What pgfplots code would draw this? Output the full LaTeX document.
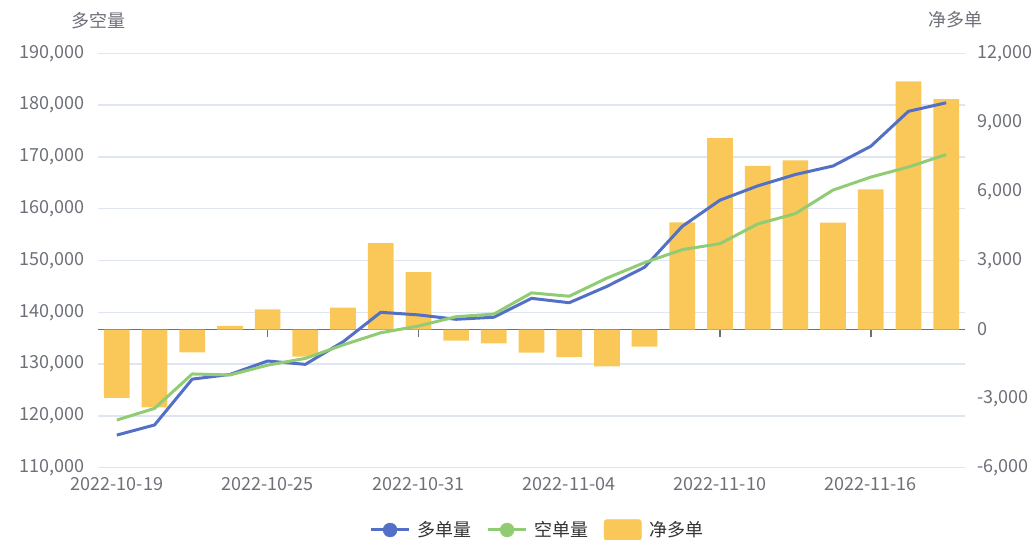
\documentclass[border=0pt]{standalone}
\usepackage{pgfplots}
\usepackage{pgfplotstable}
\pgfplotsset{compat=1.18}
\usepackage{fontspec}
\setmainfont{Noto Sans CJK SC}
\definecolor{cblue}{HTML}{5470C6}
\definecolor{cgreen}{HTML}{91CC75}
\definecolor{cyellow}{HTML}{FAC858}
\definecolor{cgrid}{HTML}{E0E6F1}
\definecolor{caxis}{HTML}{6E7079}
\definecolor{ctext}{HTML}{6E7079}
\definecolor{clegend}{HTML}{333333}

\pgfplotstableread{
i long short net
0 116300 119200 -2970
1 118250 121450 -3380
2 127100 128100 -990
3 128000 127900 160
4 130600 129800 880
5 129950 131100 -1180
6 134300 133700 950
7 140000 136050 3750
8 139500 137350 2490
9 138650 139150 -480
10 139050 139650 -600
11 142700 143750 -1000
12 141850 143100 -1200
13 145000 146600 -1600
14 148700 149600 -740
15 156600 152100 4660
16 161650 153250 8320
17 164400 157050 7110
18 166600 159050 7350
19 168250 163600 4640
20 172050 166100 6090
21 178800 168050 10780
22 180450 170450 10010
}\datatable

\begin{document}
\begin{tikzpicture}[x=1pt,y=1pt]
\path[use as bounding box] (0,0) rectangle (1035,539);
\pgfplotsset{
  base/.style={
    scale only axis, width=867pt, height=414.4pt,
    at={(98pt,71.3pt)}, anchor=south west,
    xmin=-0.5, xmax=22.5,
    scaled y ticks=false, scaled x ticks=false,
    tick label style={font=\fontsize{18}{21}\selectfont, text=ctext, inner sep=0pt},
  }
}
% axis 1: left scale, grid, labels
\begin{axis}[base,
  clip=false,
  ymin=110000, ymax=190000,
  ytick={110000,120000,130000,140000,150000,160000,170000,180000,190000},
  yticklabels={{110,000},{120,000},{130,000},{140,000},{150,000},{160,000},{170,000},{180,000},{190,000}},
  ymajorgrids, grid style={cgrid, line width=1.5pt},
  axis line style={draw=none},
  major tick length=0pt,
  xtick={0,4,8,12,16,20},
  xticklabels={2022-10-19,2022-10-25,2022-10-31,2022-11-04,2022-11-10,2022-11-16},
  xticklabel style={anchor=north, yshift=-10pt},
  yticklabel style={anchor=east, xshift=-13pt},
]
\addplot[draw=none] coordinates {(0,150000)};
\node[font=\fontsize{18}{21}\selectfont, text=ctext] at (axis description cs:0,1.08) {多空量};
\node[font=\fontsize{18}{21}\selectfont, text=ctext] at (axis description cs:0.9885,1.08) {净多单};
\end{axis}
% axis 2: bars, right scale
\begin{axis}[base,
  ymin=-6000, ymax=12000,
  axis y line*=right, axis x line*=middle,
  y axis line style={draw=none},
  x axis line style={caxis, line width=1.5pt},
  ytick={-6000,-3000,0,3000,6000,9000,12000},
  yticklabels={{-6,000},{-3,000},0,{3,000},{6,000},{9,000},{12,000}},
  yticklabel style={anchor=west, xshift=5pt},
  y tick style={draw=none},
  xtick={0,4,8,12,16,20}, xticklabels={},
  x tick style={caxis, line width=1.5pt},
  tick align=outside, major tick length=7.5pt,
]
\addplot[ybar, bar width=25.7pt, fill=cyellow, draw=none] table[x=i, y=net] {\datatable};
\end{axis}
% axis 3: lines and legend
\begin{axis}[base,
  ymin=110000, ymax=190000,
  hide axis,
  legend columns=3,
  legend style={at={(0.5058,-0.1503)}, anchor=center, draw=none, fill=none, inner sep=0pt,
    font=\fontsize{18}{21}\selectfont, text=clegend,
    nodes={inner sep=0pt}, column sep=7.5pt,
    /tikz/every even column/.append style={column sep=15pt}},
]
\addplot[cblue, line width=3pt, line join=round, forget plot] table[x=i, y=long] {\datatable};
\addplot[cgreen, line width=3pt, line join=round, forget plot] table[x=i, y=short] {\datatable};
\addlegendimage{legend image code/.code={\draw[cblue, line width=3pt] (0pt,-0.5pt) -- (37.5pt,-0.5pt); \fill[cblue] (18.75pt,-0.5pt) circle (7pt);}}
\addlegendentry{多单量}
\addlegendimage{legend image code/.code={\draw[cgreen, line width=3pt] (0pt,-0.5pt) -- (37.5pt,-0.5pt); \fill[cgreen] (18.75pt,-0.5pt) circle (7pt);}}
\addlegendentry{空单量}
\addlegendimage{legend image code/.code={\fill[cyellow, rounded corners=3pt] (0pt,-11pt) rectangle (37.5pt,10pt);}}
\addlegendentry{净多单}
\end{axis}
\end{tikzpicture}
\end{document}
